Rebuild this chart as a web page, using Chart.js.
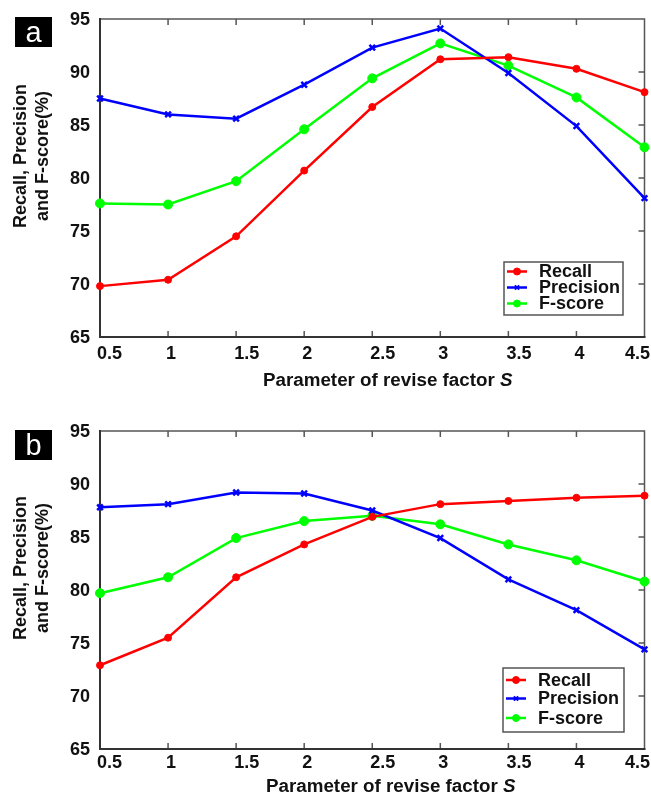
<!DOCTYPE html>
<html>
<head>
<meta charset="utf-8">
<script src="https://cdn.jsdelivr.net/npm/chart.js@4/dist/chart.umd.min.js"></script>
<style>
  html, body { margin: 0; padding: 0; background: #fff; }
  #wrap { position: relative; width: 651px; height: 798px; }
  canvas { position: absolute; left: 0; }
</style>
</head>
<body>
<div id="wrap">
  <canvas id="chartA" width="651" height="399" style="top:0"></canvas>
  <canvas id="chartB" width="651" height="399" style="top:399px"></canvas>
</div>
<script>
// ---- data ----
const sValues = [0.5, 1, 1.5, 2, 2.5, 3, 3.5, 4, 4.5];
const xTickLabels = ['0.5', '1', '1.5', '2', '2.5', '3', '3.5', '4', '4.5'];
const yTickValues = [65, 70, 75, 80, 85, 90, 95];
const seriesNames = ['Recall', 'Precision', 'F-score'];

const recallA    = [69.8, 70.4, 74.5, 80.7, 86.7, 91.2, 91.4, 90.3, 88.1];
const precisionA = [87.5, 86.0, 85.6, 88.8, 92.3, 94.1, 89.9, 84.9, 78.1];
const fscoreA    = [77.6, 77.5, 79.7, 84.6, 89.4, 92.7, 90.6, 87.6, 82.9];

const recallB    = [72.9, 75.5, 81.2, 84.3, 86.9, 88.1, 88.4, 88.7, 88.9];
const precisionB = [87.8, 88.1, 89.2, 89.1, 87.5, 84.9, 81.0, 78.1, 74.4];
const fscoreB    = [79.7, 81.2, 84.9, 86.5, 87.0, 86.2, 84.3, 82.8, 80.8];

const xTitleText = 'Parameter of revise factor ';
const xTitleItalic = 'S';
const yTitleLines = ['Recall, Precision', 'and F-score(%)'];

// ---- styles ----
const FONT = '"Liberation Sans", Arial, Helvetica, sans-serif';
const colors = ['#ff0000', '#0000ff', '#00ff00'];
const pStyles = ['circle', 'crossRot', 'circle'];
const pRadius = [3.5, 4, 4.5];

function pts(arr) { return sValues.map((s, i) => ({ x: s, y: arr[i] })); }

function makeDatasets(r, p, f) {
  return [r, p, f].map((arr, i) => ({
    label: seriesNames[i],
    data: pts(arr),
    borderColor: colors[i],
    backgroundColor: colors[i],
    borderWidth: 2.5,
    pointStyle: pStyles[i],
    pointRadius: pRadius[i],
    pointBorderWidth: i === 1 ? 2.5 : 1,
    pointBackgroundColor: colors[i],
    pointBorderColor: colors[i],
    tension: 0,
    clip: false
  }));
}

function decorPlugin(cfg) {
  return {
    id: 'decor',
    beforeDatasetsDraw(chart) {
      const ctx = chart.ctx;
      const a = chart.chartArea;
      const xs = chart.scales.x, ys = chart.scales.y;
      ctx.save();
      ctx.strokeStyle = '#555';
      ctx.lineWidth = 1.5;
      ctx.beginPath();
      ctx.moveTo(a.left, a.top); ctx.lineTo(a.right, a.top); ctx.lineTo(a.right, a.bottom);
      ctx.stroke();
      ctx.beginPath();
      sValues.forEach((s, i) => {
        if (i === 0 || i === sValues.length - 1) return;
        const px = xs.getPixelForValue(s);
        ctx.moveTo(px, a.top); ctx.lineTo(px, a.top + 6);
        ctx.moveTo(px, a.bottom); ctx.lineTo(px, a.bottom - 6);
      });
      yTickValues.forEach((v, i) => {
        if (i === 0 || i === yTickValues.length - 1) return;
        const py = ys.getPixelForValue(v);
        ctx.moveTo(a.right, py); ctx.lineTo(a.right - 6, py);
      });
      ctx.stroke();
      ctx.strokeStyle = '#333';
      ctx.lineWidth = 2;
      ctx.beginPath();
      ctx.moveTo(a.left, a.top - 1); ctx.lineTo(a.left, a.bottom); ctx.lineTo(a.right + 1, a.bottom);
      ctx.stroke();
      ctx.restore();
    },
    afterDraw(chart) {
      const ctx = chart.ctx;
      const a = chart.chartArea;
      const xs = chart.scales.x, ys = chart.scales.y;
      ctx.save();
      ctx.fillStyle = '#111';
      ctx.font = 'bold 18px ' + FONT;
      ctx.textAlign = 'right';
      ctx.textBaseline = 'middle';
      yTickValues.forEach(v => {
        ctx.fillText(String(v), a.left - 10, ys.getPixelForValue(v) + 1);
      });
      ctx.textBaseline = 'middle';
      sValues.forEach((s, i) => {
        const px = xs.getPixelForValue(s);
        const label = xTickLabels[i];
        const w = ctx.measureText(label).width;
        let left = px - 2;
        if (i === 0) left = px - 3;
        if (left + w > 650) left = 650 - w;
        ctx.textAlign = 'left';
        ctx.fillText(label, left, a.bottom + cfg.xLabelDy);
      });
      const tf = 'bold 18.8px ' + FONT;
      const tfi = 'italic bold 18.8px ' + FONT;
      ctx.font = tf;
      const w1 = ctx.measureText(xTitleText).width;
      const startX = cfg.xTitleLeft;
      ctx.textAlign = 'left';
      ctx.fillText(xTitleText, startX, cfg.xTitleY);
      ctx.font = tfi;
      ctx.fillText(xTitleItalic, startX + w1, cfg.xTitleY);
      ctx.font = 'bold 18px ' + FONT;
      ctx.textAlign = 'center';
      const cy = (a.top + a.bottom) / 2 - 22;
      [21, 43].forEach((cx, i) => {
        ctx.save();
        ctx.translate(cx, cy);
        ctx.rotate(-Math.PI / 2);
        ctx.fillText(yTitleLines[i], 0, 0);
        ctx.restore();
      });
      ctx.fillStyle = '#000';
      ctx.fillRect(15, cfg.panelTop, 37, 30);
      ctx.fillStyle = '#fff';
      ctx.font = '29px ' + FONT;
      ctx.textAlign = 'center';
      ctx.textBaseline = 'alphabetic';
      ctx.fillText(cfg.panel, 33.5, cfg.panelTop + 25);
      const L = cfg.legend;
      ctx.fillStyle = '#fff';
      ctx.fillRect(L.x, L.y, L.w, L.h);
      ctx.strokeStyle = '#555';
      ctx.lineWidth = 1.5;
      ctx.strokeRect(L.x, L.y, L.w, L.h);
      chart.data.datasets.forEach((ds, i) => {
        const ry = L.rows[i];
        ctx.strokeStyle = ds.borderColor;
        ctx.lineWidth = 2.5;
        ctx.beginPath();
        ctx.moveTo(L.x + 3, ry); ctx.lineTo(L.x + 23, ry);
        ctx.stroke();
        ctx.fillStyle = ds.borderColor;
        ctx.lineWidth = i === 1 ? 2 : 1;
        Chart.helpers.drawPoint(ctx, { pointStyle: ds.pointStyle, radius: i === 1 ? 3 : 3.5, borderWidth: 1, rotation: 0 }, L.x + 13, ry);
        ctx.fillStyle = '#111';
        ctx.font = 'bold 18px ' + FONT;
        ctx.textAlign = 'left';
        ctx.textBaseline = 'middle';
        ctx.fillText(ds.label, L.x + 35, ry + 1);
      });
      ctx.restore();
    }
  };
}

function makeChart(id, r, p, f, cfg) {
  return new Chart(document.getElementById(id), {
    type: 'line',
    data: { datasets: makeDatasets(r, p, f) },
    options: {
      responsive: false,
      animation: false,
      layout: { padding: { top: cfg.top, right: 4, left: 0, bottom: 0 } },
      plugins: { legend: { display: false }, tooltip: { enabled: false } },
      scales: {
        x: {
          type: 'linear', min: 0.5, max: 4.5,
          ticks: { display: false, stepSize: 0.5 },
          grid: { display: false },
          border: { display: false },
          afterFit: s => { s.height = cfg.xHeight; s.paddingLeft = 0; s.paddingRight = 0; }
        },
        y: {
          type: 'linear', min: 65, max: 95,
          ticks: { display: false, stepSize: 5 },
          grid: { display: false },
          border: { display: false },
          afterFit: s => { s.width = 100; }
        }
      }
    },
    plugins: [decorPlugin(cfg)]
  });
}

makeChart('chartA', recallA, precisionA, fscoreA, {
  top: 19, xHeight: 62, panel: 'a', panelTop: 17,
  xLabelDy: 17, xTitleLeft: 263, xTitleY: 381,
  legend: { x: 504, y: 262, w: 119, h: 53, rows: [271.5, 287.5, 303.5] }
});
makeChart('chartB', recallB, precisionB, fscoreB, {
  top: 32, xHeight: 49, panel: 'b', panelTop: 31,
  xLabelDy: 14, xTitleLeft: 266, xTitleY: 388,
  legend: { x: 503, y: 269, w: 121, h: 64, rows: [281, 299.5, 319] }
});
</script>
</body>
</html>
